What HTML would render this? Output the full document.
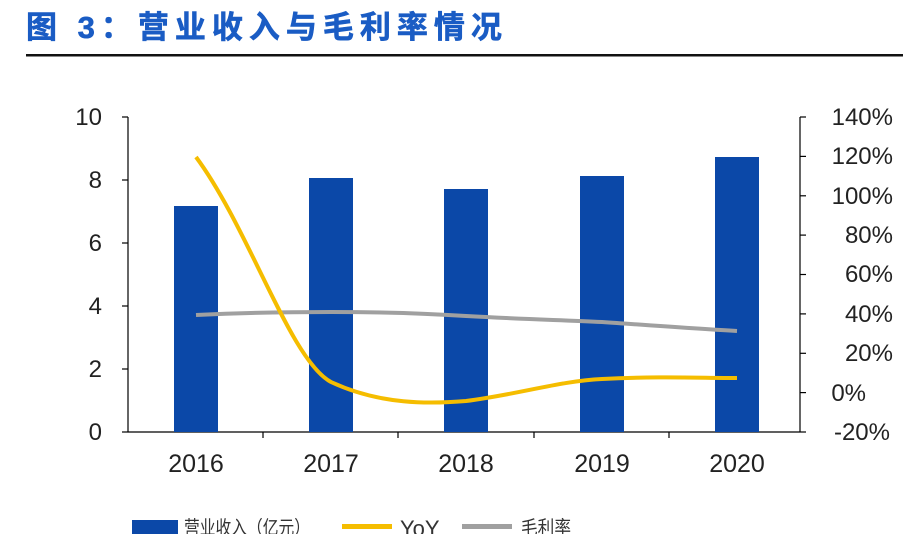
<!DOCTYPE html>
<html><head><meta charset="utf-8"><style>
body{margin:0;background:#fff;width:903px;height:534px;overflow:hidden}
</style></head><body>
<svg width="903" height="534" xmlns="http://www.w3.org/2000/svg" font-family="Liberation Sans, Noto Sans CJK SC, sans-serif">
<text x="26" y="38" font-size="31" font-weight="bold" fill="#1a5cc4" stroke="#1a5cc4" stroke-width="0.6" font-family="Liberation Sans, Noto Sans CJK SC, sans-serif" letter-spacing="6">图 3：营业收入与毛利率情况</text>
<rect x="26" y="54" width="877" height="2.5" fill="#111"/>
<g stroke="#000" stroke-width="1.2">
<line x1="128" y1="117" x2="128" y2="432"/>
<line x1="128" y1="432" x2="800" y2="432"/>
<line x1="800" y1="117" x2="800" y2="432"/>
<line x1="122" y1="117" x2="128" y2="117"/><line x1="122" y1="180" x2="128" y2="180"/><line x1="122" y1="243" x2="128" y2="243"/><line x1="122" y1="306" x2="128" y2="306"/><line x1="122" y1="369" x2="128" y2="369"/><line x1="122" y1="432" x2="128" y2="432"/>
<line x1="800" y1="117" x2="806" y2="117"/><line x1="800" y1="156.4" x2="806" y2="156.4"/><line x1="800" y1="195.8" x2="806" y2="195.8"/><line x1="800" y1="235.1" x2="806" y2="235.1"/><line x1="800" y1="274.5" x2="806" y2="274.5"/><line x1="800" y1="313.9" x2="806" y2="313.9"/><line x1="800" y1="353.3" x2="806" y2="353.3"/><line x1="800" y1="392.6" x2="806" y2="392.6"/><line x1="800" y1="432" x2="806" y2="432"/>
<line x1="263" y1="432" x2="263" y2="438"/><line x1="398" y1="432" x2="398" y2="438"/><line x1="534" y1="432" x2="534" y2="438"/><line x1="669" y1="432" x2="669" y2="438"/>
</g>
<g font-size="24" fill="#222" text-anchor="end">
<text x="102" y="125">10</text><text x="102" y="188">8</text><text x="102" y="251">6</text><text x="102" y="314">4</text><text x="102" y="377">2</text><text x="102" y="440">0</text>
</g>
<g font-size="24" fill="#222" text-anchor="end">
<text x="893" y="125">140%</text><text x="893" y="164">120%</text><text x="893" y="204">100%</text><text x="893" y="243">80%</text><text x="893" y="282">60%</text><text x="893" y="322">40%</text><text x="893" y="361">20%</text><text x="866" y="401">0%</text><text x="890" y="440">-20%</text>
</g>
<g font-size="25" fill="#222" text-anchor="middle">
<text x="196" y="472">2016</text><text x="331" y="472">2017</text><text x="466" y="472">2018</text><text x="602" y="472">2019</text><text x="737" y="472">2020</text>
</g>
<g fill="#0b48a8">
<rect x="174" y="206" width="44" height="226"/>
<rect x="309" y="178" width="44" height="254"/>
<rect x="444" y="189" width="44" height="243"/>
<rect x="580" y="176" width="44" height="256"/>
<rect x="715" y="157" width="44" height="275"/>
</g>
<path d="M196 315 C 260 312, 300 312, 331 312 C 380 312, 420 313, 466 316 C 520 319, 560 320, 602 322 C 660 326, 700 329, 737 331" fill="none" stroke="#a0a0a0" stroke-width="4"/>
<path d="M196 157 C 250 230, 290 360, 331 382 C 380 405, 430 404, 466 401 C 520 394, 560 381, 602 379 C 660 376, 700 378, 737 378" fill="none" stroke="#f5bd00" stroke-width="4"/>
<rect x="132" y="520" width="46" height="16" fill="#0b48a8"/>
<text x="184" y="534" font-size="19" fill="#333" textLength="126" lengthAdjust="spacingAndGlyphs">营业收入（亿元）</text>
<rect x="342" y="524" width="50" height="5" fill="#f5bd00"/>
<text x="400" y="536" font-size="22" fill="#333">YoY</text>
<rect x="462" y="524" width="50" height="5" fill="#a0a0a0"/>
<text x="521" y="534" font-size="19" fill="#333" textLength="50" lengthAdjust="spacingAndGlyphs">毛利率</text>
</svg>
</body></html>
